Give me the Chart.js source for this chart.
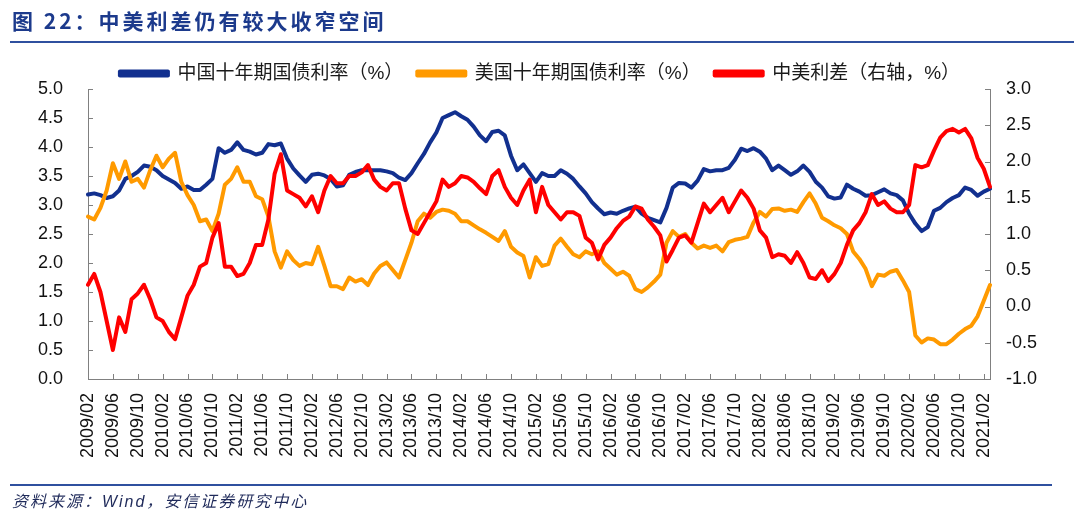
<!DOCTYPE html>
<html>
<head>
<meta charset="utf-8">
<script src="https://cdn.jsdelivr.net/npm/chart.js@4"></script>
<style>
  html, body { margin:0; padding:0; background:#fff; }
  #wrap { position:relative; width:1080px; height:528px; overflow:hidden; }
  #c { position:absolute; left:0; top:0; }
  #title { position:absolute; left:12px; top:5px; font-family:"Noto Sans CJK SC", sans-serif; font-weight:bold; font-size:21px; color:#1c3a8c; letter-spacing:3px; white-space:nowrap; }
  #rule1 { position:absolute; left:10px; top:41px; width:1064px; height:2px; background:#2f509f; }
  #rule2 { position:absolute; left:10px; top:484px; width:1042px; height:2px; background:#2f509f; }
  #source { position:absolute; left:12px; top:488px; font-family:"Liberation Sans","Noto Sans CJK SC", sans-serif; font-style:italic; font-size:16px; letter-spacing:2px; color:#1f2a5a; white-space:nowrap; }
</style>
</head>
<body>
<div id="wrap">
  <canvas id="c" width="1080" height="528"></canvas>
  <div id="title">图 22：中美利差仍有较大收窄空间</div>
  <div id="rule1"></div>
  <div id="rule2"></div>
  <div id="source">资料来源：Wind，安信证券研究中心</div>
</div>
<script>
// ---- categories (monthly, 2009/02 .. 2021/03) ----
const startYear = 2009, startMonth = 2, monthCount = 146;
const months = [];
for (let i = 0; i < monthCount; i++) {
  const t = (startMonth - 1) + i;
  const y = startYear + Math.floor(t / 12), m = (t % 12) + 1;
  months.push(y + '/' + String(m).padStart(2, '0'));
}
const tickEvery = 4;

// ---- series values ----
const cn10y = [
  3.18,3.20,3.17,3.12,3.15,3.25,3.45,3.50,3.57,3.68,
  3.66,3.60,3.50,3.44,3.38,3.28,3.32,3.26,3.26,3.35,
  3.45,3.98,3.90,3.95,4.08,3.95,3.92,3.87,3.90,4.05,
  4.03,4.06,3.80,3.63,3.51,3.40,3.52,3.54,3.51,3.45,
  3.32,3.34,3.52,3.57,3.60,3.60,3.60,3.60,3.58,3.55,
  3.47,3.43,3.55,3.72,3.88,4.08,4.25,4.50,4.55,4.60,
  4.53,4.47,4.35,4.20,4.10,4.26,4.28,4.20,3.85,3.60,
  3.70,3.55,3.40,3.55,3.50,3.50,3.60,3.54,3.45,3.32,
  3.20,3.05,2.94,2.84,2.87,2.85,2.90,2.94,2.97,2.85,
  2.78,2.74,2.70,2.95,3.30,3.38,3.37,3.30,3.42,3.62,
  3.58,3.60,3.60,3.64,3.78,3.97,3.93,3.98,3.92,3.80,
  3.60,3.68,3.60,3.52,3.58,3.68,3.57,3.40,3.30,3.15,
  3.11,3.13,3.35,3.28,3.23,3.16,3.17,3.22,3.27,3.20,
  3.17,3.08,2.85,2.68,2.55,2.62,2.90,2.95,3.05,3.12,
  3.17,3.30,3.26,3.16,3.23,3.28
];
const us10y = [
  2.80,2.75,2.95,3.25,3.72,3.45,3.75,3.40,3.45,3.30,
  3.60,3.85,3.65,3.80,3.90,3.40,3.17,3.00,2.72,2.75,
  2.55,2.85,3.35,3.45,3.65,3.40,3.40,3.15,3.10,2.80,
  2.20,1.92,2.20,2.05,1.95,2.00,1.98,2.28,1.95,1.60,
  1.60,1.55,1.75,1.68,1.72,1.62,1.82,1.95,2.01,1.88,
  1.75,2.05,2.35,2.72,2.85,2.78,2.88,2.92,2.90,2.85,
  2.72,2.72,2.65,2.58,2.52,2.45,2.38,2.55,2.28,2.18,
  2.12,1.75,2.10,1.95,1.98,2.30,2.42,2.28,2.15,2.10,
  2.20,2.15,2.20,2.00,1.90,1.80,1.85,1.78,1.55,1.50,
  1.58,1.68,1.80,2.35,2.55,2.45,2.50,2.35,2.25,2.30,
  2.26,2.30,2.20,2.36,2.40,2.42,2.45,2.70,2.88,2.80,
  2.93,2.94,2.90,2.92,2.88,3.05,3.20,3.02,2.78,2.72,
  2.65,2.60,2.50,2.20,2.07,1.90,1.60,1.80,1.78,1.85,
  1.88,1.70,1.50,0.75,0.63,0.70,0.68,0.60,0.60,0.68,
  0.78,0.86,0.92,1.08,1.35,1.62
];
const spread = [
  0.30,0.45,0.20,-0.20,-0.60,-0.15,-0.35,0.10,0.18,0.30,
  0.10,-0.15,-0.20,-0.35,-0.45,-0.15,0.15,0.30,0.55,0.60,
  0.95,1.15,0.55,0.55,0.42,0.45,0.60,0.85,0.85,1.20,
  1.83,2.10,1.60,1.55,1.50,1.38,1.52,1.30,1.60,1.80,
  1.70,1.70,1.80,1.80,1.85,1.95,1.75,1.65,1.60,1.70,
  1.70,1.35,1.05,1.00,1.15,1.30,1.45,1.75,1.65,1.70,
  1.80,1.78,1.72,1.63,1.55,1.80,1.88,1.65,1.50,1.40,
  1.60,1.75,1.30,1.65,1.40,1.30,1.20,1.30,1.30,1.25,
  0.95,0.88,0.65,0.85,0.95,1.08,1.18,1.24,1.38,1.35,
  1.20,1.10,0.98,0.62,0.78,0.95,0.98,0.88,1.15,1.42,
  1.30,1.40,1.50,1.30,1.45,1.60,1.50,1.35,1.05,0.95,
  0.68,0.72,0.70,0.60,0.75,0.60,0.40,0.38,0.50,0.35,
  0.45,0.60,0.85,1.05,1.15,1.30,1.55,1.40,1.45,1.35,
  1.30,1.30,1.40,1.95,1.92,1.95,2.15,2.33,2.42,2.45,
  2.40,2.45,2.32,2.05,1.90,1.65
];
const seriesNames = ['中国十年期国债利率（%）', '美国十年期国债利率（%）', '中美利差（右轴，%）'];

// ---- axis ranges ----
const leftAxis = { min: 0, max: 5, step: 0.5 };
const rightAxis = { min: -1, max: 3, step: 0.5 };

const axisColor = '#808080';
const tickFont = { family: "'Liberation Sans', Arial, sans-serif", size: 18 };

const innerTicks = {
  id: 'innerTicks',
  afterLayout(chart) {
    // nudge legend down a few pixels (legend box only)
    if (chart.legend) { chart.legend.top += 4; chart.legend.bottom += 4; }
  },
  afterDraw(chart) {
    const ctx = chart.ctx, a = chart.chartArea;
    ctx.save();
    ctx.strokeStyle = axisColor;
    ctx.lineWidth = 1;
    const len = 5;
    const xs = chart.scales.x;
    xs.ticks.forEach((t, i) => {
      if (i % tickEvery !== 0) return;
      const x = Math.round(xs.getPixelForTick(i)) + 0.5;
      ctx.beginPath(); ctx.moveTo(x, a.bottom); ctx.lineTo(x, a.bottom - len); ctx.stroke();
    });
    const yl = chart.scales.yL;
    yl.ticks.forEach((t, i) => {
      const y = Math.round(yl.getPixelForTick(i)) + 0.5;
      ctx.beginPath(); ctx.moveTo(a.left, y); ctx.lineTo(a.left + len, y); ctx.stroke();
    });
    const yr = chart.scales.yR;
    yr.ticks.forEach((t, i) => {
      const y = Math.round(yr.getPixelForTick(i)) + 0.5;
      ctx.beginPath(); ctx.moveTo(a.right, y); ctx.lineTo(a.right - len, y); ctx.stroke();
    });
    ctx.restore();
  }
};

new Chart(document.getElementById('c'), {
  type: 'line',
  data: {
    labels: months,
    datasets: [
      { label: seriesNames[0], data: cn10y, yAxisID: 'yL', borderColor: '#12308f', backgroundColor: '#12308f', order: 3 },
      { label: seriesNames[1], data: us10y, yAxisID: 'yL', borderColor: '#ff9a00', backgroundColor: '#ff9a00', order: 2 },
      { label: seriesNames[2], data: spread, yAxisID: 'yR', borderColor: '#ff0000', backgroundColor: '#ff0000', order: 1 }
    ]
  },
  options: {
    responsive: false,
    animation: false,
    devicePixelRatio: 1,
    layout: { padding: { top: 46, left: 0, right: 0, bottom: 0 } },
    elements: {
      line: { borderWidth: 4, tension: 0, borderJoinStyle: 'round', borderCapStyle: 'round' },
      point: { radius: 0, hoverRadius: 0 }
    },
    plugins: {
      legend: {
        display: true,
        position: 'top',
        labels: {
          boxWidth: 48, boxHeight: 4, padding: 14, color: '#1a1a1a',
          font: { family: "'Liberation Sans', 'Noto Sans CJK SC', sans-serif", size: 19 },
          sort: (a, b) => a.datasetIndex - b.datasetIndex
        }
      },
      title: { display: false },
      tooltip: { enabled: false }
    },
    scales: {
      x: {
        type: 'category',
        grid: { display: false },
        border: { display: true, color: axisColor, width: 1 },
        ticks: {
          autoSkip: false, minRotation: 90, maxRotation: 90, padding: 6,
          color: '#111', font: tickFont,
          callback: (v, i) => (i % tickEvery === 0 ? months[i] : '')
        },
        afterFit: s => { s.height = 149; }
      },
      yL: {
        position: 'left',
        min: leftAxis.min, max: leftAxis.max,
        grid: { display: false },
        border: { display: true, color: axisColor, width: 1 },
        ticks: { stepSize: leftAxis.step, padding: 17, color: '#111', font: tickFont, callback: v => Number(v).toFixed(1) },
        afterFit: s => { s.width = 88; }
      },
      yR: {
        position: 'right',
        min: rightAxis.min, max: rightAxis.max,
        grid: { display: false },
        border: { display: true, color: axisColor, width: 1 },
        ticks: { stepSize: rightAxis.step, padding: 8, color: '#111', font: tickFont, callback: v => Number(v).toFixed(1) },
        afterFit: s => { s.width = 90; }
      }
    }
  },
  plugins: [innerTicks]
});
</script>
</body>
</html>
